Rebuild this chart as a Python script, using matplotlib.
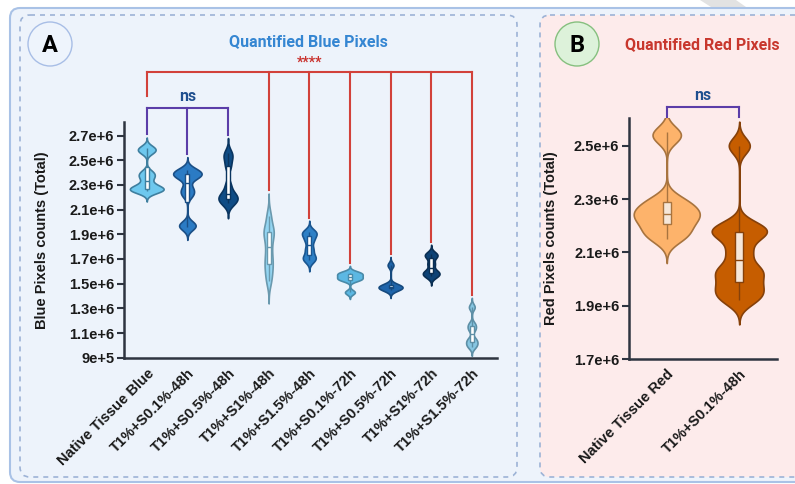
import numpy as np
import matplotlib
matplotlib.use("Agg")
import matplotlib.pyplot as plt
from matplotlib.patches import FancyBboxPatch, Circle, Rectangle, Polygon

# ---- data (pixel counts, millions) ----
blue_labels = ["Native Tissue Blue", "T1%+S0.1%-48h", "T1%+S0.5%-48h", "T1%+S1%-48h",
               "T1%+S1.5%-48h", "T1%+S0.1%-72h", "T1%+S0.5%-72h", "T1%+S1%-72h",
               "T1%+S1.5%-72h"]
native_blue = [2.60, 2.57, 2.40, 2.36, 2.30, 2.27, 2.26, 2.25]
s01_48 = [2.42, 2.40, 2.38, 2.36, 2.27, 2.22, 1.98, 1.96]
s05_48 = [2.56, 2.52, 2.45, 2.30, 2.23, 2.21, 2.19, 2.17, 2.15]
s1_48 = [2.05, 1.95, 1.92, 1.88, 1.80, 1.72, 1.66, 1.60, 1.52]
s15_48 = [1.92, 1.90, 1.85, 1.78, 1.72, 1.69]
s01_72 = [1.59, 1.58, 1.56, 1.54, 1.53, 1.43]
s05_72 = [1.65, 1.49, 1.48, 1.47, 1.46, 1.45]
s1_72 = [1.74, 1.72, 1.66, 1.60, 1.58, 1.56]
s15_72 = [1.31, 1.17, 1.13, 1.05, 1.02, 0.99]
blue_samples = [native_blue, s01_48, s05_48, s1_48, s15_48, s01_72, s05_72, s1_72, s15_72]

red_labels = ["Native Tissue Red", "T1%+S0.1%-48h"]
native_red = [2.55, 2.53, 2.30, 2.28, 2.26, 2.245, 2.23, 2.22, 2.19, 2.17, 2.15]
red_s01_48 = [2.50, 2.20, 2.18, 2.16, 2.10, 2.04, 2.02, 1.98, 1.95, 1.92]
red_samples = [native_red, red_s01_48]

blue_ticks = [0.9, 1.1, 1.3, 1.5, 1.7, 1.9, 2.1, 2.3, 2.5, 2.7]
blue_ticklabels = ["9e+5", "1.1e+6", "1.3e+6", "1.5e+6", "1.7e+6", "1.9e+6",
                   "2.1e+6", "2.3e+6", "2.5e+6", "2.7e+6"]
red_ticks = [1.7, 1.9, 2.1, 2.3, 2.5]
red_ticklabels = ["1.7e+6", "1.9e+6", "2.1e+6", "2.3e+6", "2.5e+6"]

# ---- style ----
blue_fill = ["#6EC8EE", "#2B7BC4", "#0F4C85", "#93D5F2", "#2E80C6",
             "#5CB8E3", "#1F65AB", "#0D4275", "#86C6E2"]
blue_edge = ["#3F7F9F", "#1B4F86", "#0A3560", "#6A99AE", "#1B5690",
             "#4A8AA8", "#164A7E", "#0A2E52", "#5E8FA6"]
blue_bw = [0.028, 0.035, 0.04, 0.06, 0.03, 0.018, 0.022, 0.025, 0.025]
blue_w = [0.83, 0.70, 0.47, 0.25, 0.36, 0.63, 0.59, 0.41, 0.28]
red_fill = ["#FDB36B", "#C65D00"]
red_edge = ["#A8743F", "#86410A"]
red_bw = [0.03, 0.03]
red_w = [0.91, 0.76]

TICKFONT = "Liberation Sans"
AXCOL = "#2E3440"


def kde_stats(vals, bw):
    v = np.asarray(vals, dtype=float)
    coords = np.linspace(v.min() - 3 * bw, v.max() + 3 * bw, 300)
    dens = np.exp(-0.5 * ((coords[:, None] - v[None, :]) / bw) ** 2).sum(axis=1)
    return dict(coords=coords, vals=dens, mean=v.mean(), median=np.median(v),
                min=v.min(), max=v.max())


def draw_violins(ax, samples, fills, edges, bws, widths, boxw, boxfc):
    tops = []
    for i, vals in enumerate(samples):
        st = kde_stats(vals, bws[i])
        parts = ax.violin([st], positions=[i], widths=widths[i], showmeans=False,
                          showextrema=False, showmedians=False)
        for b in parts["bodies"]:
            b.set_facecolor(fills[i])
            b.set_edgecolor(edges[i])
            b.set_linewidth(1.2)
            b.set_alpha(1)
            b.set_zorder(2)
        q1, med, q3 = np.percentile(vals, [25, 50, 75])
        ax.vlines(i, min(vals), max(vals), color=edges[i], lw=1.0, zorder=3)
        ax.add_patch(Rectangle((i - boxw / 2, q1), boxw, q3 - q1, fc=boxfc,
                               ec=edges[i], lw=1.0, zorder=4))
        ax.hlines(med, i - boxw / 2, i + boxw / 2, color=edges[i], lw=1.0, zorder=5)
        tops.append(st["coords"].max())
    return tops


def style_axis(ax, ticks, ticklabels, labels, ylabel, ylab_x):
    ax.set_facecolor("none")
    for s in ["top", "right"]:
        ax.spines[s].set_visible(False)
    for s in ["left", "bottom"]:
        ax.spines[s].set_color(AXCOL)
        ax.spines[s].set_linewidth(1.8)
    ax.set_yticks(ticks)
    ax.set_yticklabels(ticklabels, fontfamily=TICKFONT, fontweight="bold",
                       fontsize=10.5, color="#1A1A1A")
    ax.tick_params(axis="y", length=5, width=1.5, color=AXCOL, pad=2)
    ax.set_xticks(range(len(labels)))
    ax.set_xticklabels(labels, rotation=45, ha="right", rotation_mode="anchor",
                       fontfamily=TICKFONT, fontweight="bold", fontsize=10.5,
                       color="#1A1A1A")
    ax.tick_params(axis="x", length=0, pad=6)
    ax.set_ylabel(ylabel, fontfamily=TICKFONT, fontweight="bold", fontsize=10.5,
                  color="#1A1A1A")
    ax.yaxis.set_label_coords(ylab_x, 0.5)


W, H = 795, 484
fig = plt.figure(figsize=(W / 100, H / 100), dpi=100)
fig.patch.set_facecolor("white")

# ---- background panels (pixel coordinates) ----
bg = fig.add_axes([0, 0, 1, 1], zorder=-5)
bg.set_xlim(0, W)
bg.set_ylim(H, 0)
bg.axis("off")
bg.add_patch(Polygon([(700, 0), (736, 0), (756, 14), (722, 14)], closed=True,
                     fc="#E2E2E2", ec="none"))
bg.add_patch(FancyBboxPatch((10, 8), 800, 474, boxstyle="round,pad=0,rounding_size=10",
                            fc="#EDF3FB", ec="#A9C2E6", lw=1.5))
bg.add_patch(FancyBboxPatch((20, 15), 497, 462, boxstyle="round,pad=0,rounding_size=10",
                            fc="none", ec="#9DB3D6", lw=1.2, ls=(0, (3, 3))))
bg.add_patch(FancyBboxPatch((540, 15), 270, 462, boxstyle="round,pad=0,rounding_size=10",
                            fc="#FDEBEB", ec="#9DB3D6", lw=1.2, ls=(0, (3, 3))))
bg.add_patch(Circle((50, 44), 22, fc="#EEF4FC", ec="#A8BEE6", lw=1))
bg.text(50, 45, "A", ha="center", va="center", fontsize=17, fontweight="bold",
        fontfamily="Roboto", color="black")
bg.add_patch(Circle((577, 44), 22, fc="#DDF2DA", ec="#86C07F", lw=1))
bg.text(577, 45, "B", ha="center", va="center", fontsize=17, fontweight="bold",
        fontfamily="Roboto", color="black")
bg.text(308, 42, "Quantified Blue Pixels", ha="center", va="center", fontsize=11.5,
        fontweight="bold", fontfamily="Roboto", color="#3586D2")
bg.text(702, 45, "Quantified Red Pixels", ha="center", va="center", fontsize=11.5,
        fontweight="bold", fontfamily="Roboto", color="#C8372D")

# ---- panel A ----
axA = fig.add_axes([124 / W, 1 - 357.7 / H, 373 / W, 235.7 / H])
topsA = draw_violins(axA, blue_samples, blue_fill, blue_edge, blue_bw, blue_w,
                     0.1, "white")
axA.set_xlim(-0.56, 8.62)
axA.set_ylim(0.9, 2.81)
style_axis(axA, blue_ticks, blue_ticklabels, blue_labels,
           "Blue Pixels counts (Total)", -0.20)

gap = 0.025
purple, red = "#5B3DA8", "#D2413A"
ns_y, star_y = 2.927, 3.212
for i in [0, 1, 2]:
    axA.plot([i, i], [ns_y, topsA[i] + gap], color=purple, lw=1.5, clip_on=False)
axA.plot([0, 2], [ns_y, ns_y], color=purple, lw=1.5, clip_on=False)
axA.text(1, ns_y + 0.03, "ns", ha="center", va="bottom", fontsize=11.5,
         fontweight="bold", fontfamily="Roboto", color="#1F4F8F")
axA.plot([0, 0], [star_y, 3.024], color=red, lw=1.5, clip_on=False)
for i in range(3, 9):
    axA.plot([i, i], [star_y, topsA[i] + gap], color=red, lw=1.5, clip_on=False)
axA.plot([0, 8], [star_y, star_y], color=red, lw=1.5, clip_on=False)
axA.text(4, star_y + 0.02, "****", ha="center", va="bottom", fontsize=10,
         fontweight="bold", fontfamily="Roboto", color="#C9302C")

# ---- panel B ----
axB = fig.add_axes([629 / W, 1 - 359 / H, 148 / W, 241 / H])
topsB = draw_violins(axB, red_samples, red_fill, red_edge, red_bw, red_w,
                     0.11, "#F6E7D9")
axB.set_xlim(-0.52, 1.52)
axB.set_ylim(1.7, 2.604)
style_axis(axB, red_ticks, red_ticklabels, red_labels,
           "Red Pixels counts (Total)", -0.48)
nsB = 2.647
for i in [0, 1]:
    axB.plot([i, i], [nsB, 2.609], color=purple, lw=1.5, clip_on=False)
axB.plot([0, 1], [nsB, nsB], color=purple, lw=1.5, clip_on=False)
axB.text(0.5, nsB + 0.012, "ns", ha="center", va="bottom", fontsize=11.5,
         fontweight="bold", fontfamily="Roboto", color="#1F4F8F")

fig.savefig("out.png", dpi=100)
